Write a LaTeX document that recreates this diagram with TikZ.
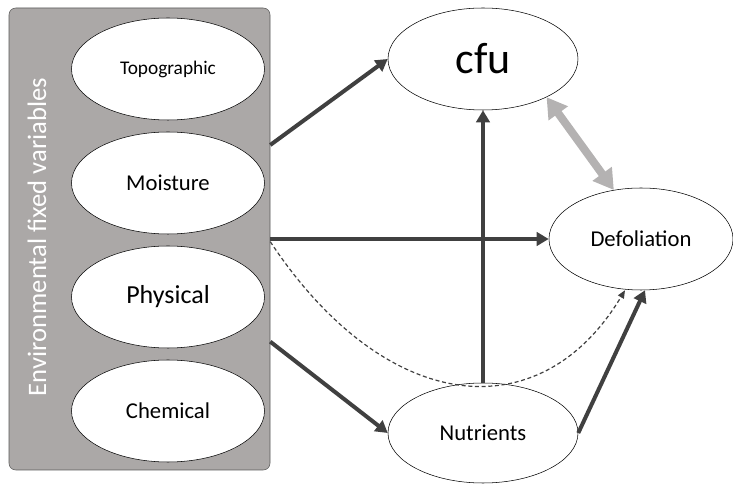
\documentclass[tikz,border=0pt]{standalone}
\usepackage{fontspec}
\setmainfont{Carlito}
\usetikzlibrary{arrows.meta,positioning,shapes.geometric}
\definecolor{boxgray}{RGB}{171,168,167}
\definecolor{arrowgray}{RGB}{64,64,64}
\definecolor{lightarrow}{RGB}{180,178,178}
\tikzset{%
  % Specifications for style of arrows:
   effect/.style={
           -{Triangle[length=9pt,width=10pt]},
           line width=3pt,
           draw=arrowgray},
   indirect/.style={
           -{Triangle[length=6pt,width=5pt]},
           dash pattern=on 3pt off 2pt,
           line width=0.9pt,
           draw=arrowgray},
   covary/.style={
           {Triangle[length=15pt,width=17pt]}-{Triangle[length=15pt,width=17pt]},
           line width=6pt,
           draw=lightarrow},
  % Specifications for style of nodes:
   base/.style = {ellipse, draw=black, fill=white, inner sep=0pt,
                  minimum width=142.5pt, minimum height=76.5pt,
                  text centered},
   fixed/.style = {base, minimum width=144.75pt},
   envbox/.style = {rectangle, rounded corners=5pt, draw=black!65,
                  fill=boxgray, minimum width=195.75pt,
                  minimum height=346.5pt},
}

\begin{document}
\begin{tikzpicture}[x=0.75pt, y=-0.75pt, node distance=85.5pt,
    every node/.style={font=\fontsize{17}{20}\selectfont}]

  \useasboundingbox (0,0) rectangle (733,484);

  % Specification of nodes (position, etc.)
  \node (env_block)	[envbox] at (139.5,239)	{};
  \node (env_label)	[rotate=90, text=white, font=\fontsize{20}{24}\selectfont] at (37,237)	{Environmental fixed variables};

  \node (topo_block)	[fixed, font=\fontsize{14.5}{17}\selectfont] at (168,69)	{Topographic};
  \node (moist_block)	[fixed, below of= topo_block]	{Moisture};
  \node (phys_block)	[fixed, below of= moist_block, font=\fontsize{19.5}{23}\selectfont]	{Physical};
  \node (chem_block)	[fixed, below of= phys_block]	{Chemical};

  \node (cfu_block)	[base, font=\fontsize{33}{38}\selectfont] at (483,59)	{cfu};
  \node (defol_block)	[base, minimum width=138pt] at (641,239)	{Defoliation};
  \node (nutr_block)	[base, minimum height=75pt, below of= cfu_block, node distance=280.5pt]	{Nutrients};

  % Effects of the fixed variables
	\draw[effect]	([yshift=70.5pt]env_block.east) -- (cfu_block.west);
	\draw[effect]	(env_block.east) -- (defol_block.west);
	\draw[effect]	([yshift=-77pt]env_block.east) -- (nutr_block.west);
	\draw[indirect]	([yshift=-2pt]env_block.east) .. controls (385,415) and (540,432) .. ([xshift=-12pt]defol_block.south);

  % Effects of the nutrients
	\draw[effect]	(nutr_block.north) -- (cfu_block.south);
	\draw[effect]	(nutr_block.east) -- ([xshift=3pt]defol_block.south);

	\draw[covary]	(cfu_block.-31) -- (defol_block.119);

\end{tikzpicture}
\end{document}
